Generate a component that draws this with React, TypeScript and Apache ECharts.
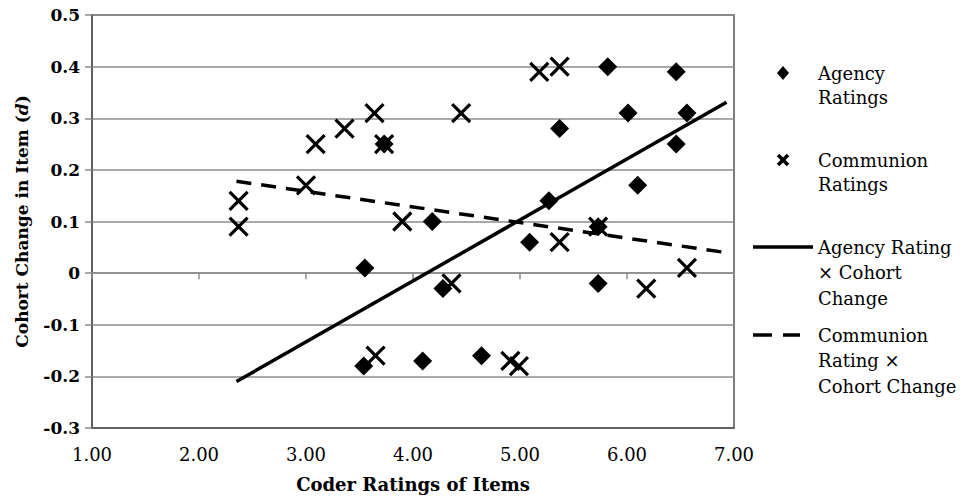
import React, { useEffect, useRef } from "react";
import * as echarts from "echarts";

const agencyX = [3.55, 3.54, 3.73, 4.09, 4.18, 4.28, 4.64, 5.09, 5.27, 5.37, 5.73, 5.73, 5.82, 6.01, 6.10, 6.46, 6.46, 6.56];
const agencyY = [0.01, -0.18, 0.25, -0.17, 0.10, -0.03, -0.16, 0.06, 0.14, 0.28, 0.09, -0.02, 0.40, 0.31, 0.17, 0.39, 0.25, 0.31];

const communionX = [2.37, 2.37, 3.00, 3.09, 3.36, 3.64, 3.73, 3.65, 3.90, 4.36, 4.45, 4.91, 4.99, 5.18, 5.37, 5.37, 5.73, 6.18, 6.56];
const communionY = [0.14, 0.09, 0.17, 0.25, 0.28, 0.31, 0.25, -0.16, 0.10, -0.02, 0.31, -0.17, -0.18, 0.39, 0.40, 0.06, 0.09, -0.03, 0.01];

const agencyTrendX = [2.35, 6.93];
const agencyTrendY = [-0.21, 0.331];
const communionTrendX = [2.35, 6.92];
const communionTrendY = [0.178, 0.04];

const legendLabels = [
  "Agency\nRatings",
  "Communion\nRatings",
  "Agency Rating\n× Cohort\nChange",
  "Communion\nRating ×\nCohort Change",
];

const xAxisName = "Coder Ratings of Items";
const yAxisName = "Cohort Change in Item ({i|d})";

const FONT = "DejaVu Serif";

const zip = (xs: number[], ys: number[]) => xs.map((x, i) => [x, ys[i]]);

export default function App() {
  const ref = useRef<HTMLDivElement>(null);
  useEffect(() => {
    if (!ref.current) return;
    const chart = echarts.init(ref.current, undefined, { renderer: "svg" });
    const legendText = (text: string, y: number, lh: number) => ({
      type: "text",
      x: 818,
      y,
      style: {
        text,
        fill: "#000",
        fontFamily: FONT,
        fontSize: 18,
        lineHeight: lh,
        verticalAlign: "top",
        align: "left",
      },
    });
    const option: any = {
      animation: false,
      backgroundColor: "#fff",
      grid: {
        left: 92,
        top: 15,
        width: 642,
        height: 413,
        show: true,
        borderColor: "#555",
        borderWidth: 1.5,
        outerBoundsMode: "none",
      },
      xAxis: [
        {
          type: "value",
          min: 1,
          max: 7,
          interval: 1,
          position: "bottom",
          name: xAxisName,
          nameLocation: "middle",
          nameGap: 47,
          nameTextStyle: { fontFamily: FONT, fontWeight: "bold", fontSize: 18, color: "#000" },
          axisLine: { show: true, onZero: false, lineStyle: { color: "#555", width: 1.5 } },
          axisTick: { show: false },
          axisLabel: {
            show: true,
            margin: 17,
            fontFamily: FONT,
            fontSize: 18,
            color: "#000",
            formatter: (v: number) => v.toFixed(2),
          },
          splitLine: { show: false },
        },
        {
          type: "value",
          min: 1,
          max: 7,
          interval: 1,
          position: "bottom",
          axisLine: { show: true, onZero: true, lineStyle: { color: "#8c8c8c", width: 1.5 } },
          axisTick: { show: true, inside: false, length: 6, lineStyle: { color: "#8c8c8c", width: 1.5 } },
          axisLabel: { show: false },
          splitLine: { show: false },
        },
      ],
      yAxis: {
        type: "value",
        min: -0.3,
        max: 0.5,
        interval: 0.1,
        name: yAxisName,
        nameLocation: "middle",
        nameGap: 62,
        nameTextStyle: {
          fontFamily: FONT,
          fontWeight: "bold",
          fontSize: 17,
          color: "#000",
          rich: {
            i: { fontFamily: FONT, fontWeight: "bold", fontStyle: "italic", fontSize: 17, color: "#000" },
          },
        },
        axisLine: { show: true, onZero: false, lineStyle: { color: "#555", width: 1.5 } },
        axisTick: { show: true, inside: false, length: 7, lineStyle: { color: "#8c8c8c", width: 1.5 } },
        axisLabel: {
          margin: 12,
          fontFamily: FONT,
          fontWeight: "bold",
          fontSize: 17,
          color: "#000",
          formatter: (v: number) => String(Math.round(v * 10) / 10),
        },
        splitLine: { show: true, lineStyle: { color: "#8c8c8c", width: 1.5 } },
      },
      series: [
        {
          name: "Agency Ratings",
          type: "scatter",
          xAxisIndex: 0,
          symbol: "diamond",
          symbolSize: 19,
          itemStyle: { color: "#000", opacity: 1 },
          data: zip(agencyX, agencyY),
          z: 3,
        },
        {
          name: "Communion Ratings",
          type: "scatter",
          xAxisIndex: 0,
          symbol: "path://M0,0L10,10M10,0L0,10",
          symbolSize: 18,
          itemStyle: { color: "rgba(0,0,0,0)", borderColor: "#000", borderWidth: 3.2, opacity: 1 },
          data: zip(communionX, communionY),
          z: 3,
        },
        {
          name: "Agency Rating × Cohort Change",
          type: "line",
          xAxisIndex: 0,
          symbol: "none",
          lineStyle: { color: "#000", width: 3.5 },
          data: zip(agencyTrendX, agencyTrendY),
          z: 4,
        },
        {
          name: "Communion Rating × Cohort Change",
          type: "line",
          xAxisIndex: 0,
          symbol: "none",
          lineStyle: { color: "#000", width: 3.5, type: [15, 10] },
          data: zip(communionTrendX, communionTrendY),
          z: 4,
        },
      ],
      graphic: [
        {
          type: "polygon",
          shape: { points: [[783, 66], [789, 73], [783, 80], [777, 73]] },
          style: { fill: "#000" },
        },
        legendText(legendLabels[0], 61, 24),
        {
          type: "line",
          shape: { x1: 778, y1: 155, x2: 788, y2: 165 },
          style: { stroke: "#000", lineWidth: 3.5 },
        },
        {
          type: "line",
          shape: { x1: 788, y1: 155, x2: 778, y2: 165 },
          style: { stroke: "#000", lineWidth: 3.5 },
        },
        legendText(legendLabels[1], 148, 24),
        {
          type: "line",
          shape: { x1: 753, y1: 247, x2: 813, y2: 247 },
          style: { stroke: "#000", lineWidth: 3.5 },
        },
        legendText(legendLabels[2], 234.5, 25.5),
        {
          type: "line",
          shape: { x1: 753, y1: 335, x2: 772, y2: 335 },
          style: { stroke: "#000", lineWidth: 3.5 },
        },
        {
          type: "line",
          shape: { x1: 783, y1: 335, x2: 800, y2: 335 },
          style: { stroke: "#000", lineWidth: 3.5 },
        },
        legendText(legendLabels[3], 322.5, 25.5),
      ],
    };
    chart.setOption(option);
    return () => chart.dispose();
  }, []);
  return (
    <div
      ref={ref}
      style={{ position: "absolute", left: 0, top: 0, width: 960, height: 504, background: "#fff" }}
    />
  );
}
